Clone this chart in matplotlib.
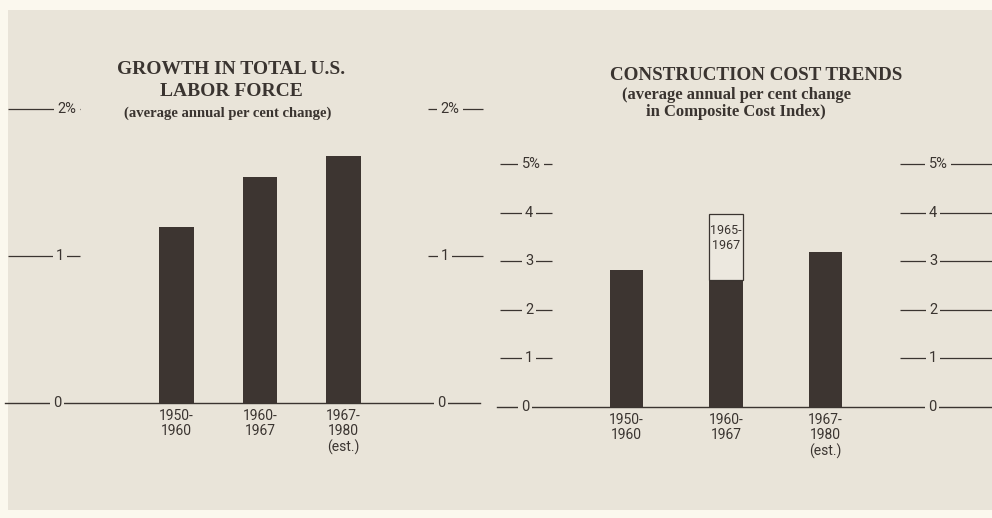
import matplotlib
matplotlib.use("Agg")
import matplotlib.pyplot as plt
import matplotlib.transforms as mtransforms
from matplotlib.patches import Rectangle

# ---- data -------------------------------------------------------------
labor_periods = ["1950-\n1960", "1960-\n1967", "1967-\n1980\n(est.)"]
labor_growth = [1.2, 1.54, 1.68]          # average annual % change
labor_ticks = [0, 1, 2]
labor_tick_labels = ["0", "1", "2%"]

cost_periods = ["1950-\n1960", "1960-\n1967", "1967-\n1980\n(est.)"]
cost_growth = [2.82, 2.62, 3.18]          # average annual % change
cost_recent_label = "1965-\n1967"
cost_recent_value = 3.98                   # 1965-1967 rate, shown as outlined box
cost_ticks = [0, 1, 2, 3, 4, 5]
cost_tick_labels = ["0", "1", "2", "3", "4", "5%"]

# ---- style ------------------------------------------------------------
W, H = 992, 518
PAPER = "#e9e4d9"
MARGIN = "#fbf8ee"
INK = "#3a3430"
BAR = "#3d3531"
SERIF = ["Liberation Serif", "DejaVu Serif"]
NARROW = ["Roboto", "DejaVu Sans"]
TICK_SIZE = 10.5
CAT_SIZE = 10
GAP = dict(facecolor=PAPER, edgecolor="none", pad=2.4)

fig = plt.figure(figsize=(W / 100, H / 100), dpi=100, facecolor=MARGIN)
fig.patches.append(Rectangle((8 / W, (H - 510) / H), (W - 8) / W, 500 / H,
                             transform=fig.transFigure, facecolor=PAPER,
                             edgecolor="none", zorder=-10))


def make_axes(x0, x1, first_center, spacing, zero_px, px_per_unit):
    """Axes covering pixel columns x0..x1 over the full height, with
    category i centred at first_center + i*spacing and value 0 at zero_px."""
    ax = fig.add_axes([x0 / W, 0, (x1 - x0) / W, 1])
    ax.set_xlim((x0 - first_center) / spacing, (x1 - first_center) / spacing)
    ax.set_ylim(-(H - zero_px) / px_per_unit, zero_px / px_per_unit)
    ax.axis("off")
    ax.patch.set_visible(False)
    return ax


def px(x):
    return x / W


def scale(ax, values, labels, left, right, centers, size=TICK_SIZE):
    tr = mtransforms.blended_transform_factory(fig.transFigure, ax.transData)
    for v, lab, cx in zip(values, labels, centers):
        ax.plot([px(left), px(right)], [v, v], transform=tr, color=INK,
                lw=0.9, solid_capstyle="butt", zorder=2, clip_on=False)
        ax.text(px(cx), v, lab, transform=tr, ha="center", va="center",
                fontsize=size, color=INK, family=NARROW, zorder=3, bbox=GAP)


# ---- left panel: labor force -----------------------------------------
ax1 = make_axes(0, 496, 176.5, 83.5, 403, 147)
x1 = range(len(labor_growth))
ax1.bar(x1, labor_growth, width=0.41, color=BAR, zorder=4)
tr1 = mtransforms.blended_transform_factory(fig.transFigure, ax1.transData)
ax1.plot([px(5), px(480)], [0, 0], transform=tr1, color=INK, lw=1.0, zorder=2)
for v, lab, cx in [(0, "0", 57), (0, "0", 441)]:
    ax1.text(px(cx), v, lab, transform=tr1, ha="center", va="center",
             fontsize=TICK_SIZE, color=INK, family=NARROW, zorder=3, bbox=GAP)
scale(ax1, labor_ticks[1:], labor_tick_labels[1:], 8, 80, [60, 67])
scale(ax1, labor_ticks[1:], labor_tick_labels[1:], 428, 483, [445, 450])
for i, lab in enumerate(labor_periods):
    ax1.annotate(lab, (i, 0), xytext=(0, -4), textcoords="offset points",
                 ha="center", va="top", fontsize=CAT_SIZE, color=INK,
                 family=NARROW, linespacing=1.15)

fig.text(px(231), 1 - 70 / H, "GROWTH IN TOTAL U.S.", ha="center",
         va="center", fontsize=14, fontweight="bold", family=SERIF, color=INK)
fig.text(px(231), 1 - 92 / H, "LABOR FORCE", ha="center", va="center",
         fontsize=14, fontweight="bold", family=SERIF, color=INK)
fig.text(px(228), 1 - 113 / H, "(average annual per cent change)",
         ha="center", va="center", fontsize=10.5, fontweight="bold",
         family=SERIF, color=INK)

# ---- right panel: construction cost ----------------------------------
ax2 = make_axes(496, 992, 626.5, 99.5, 407, 48.6)
x2 = range(len(cost_growth))
ax2.bar(x2, cost_growth, width=0.34, color=BAR, zorder=4)
ax2.bar([1], [cost_recent_value - cost_growth[1]], bottom=[cost_growth[1]],
        width=0.34, facecolor="#ece8df", edgecolor=INK, lw=0.9, zorder=4)
ax2.text(1, cost_recent_value - 0.22, cost_recent_label, ha="center",
         va="top", fontsize=9, color=INK, family=NARROW,
         linespacing=1.2, zorder=5)
tr2 = mtransforms.blended_transform_factory(fig.transFigure, ax2.transData)
ax2.plot([px(497), px(992)], [0, 0], transform=tr2, color=INK, lw=1.0,
         zorder=2, clip_on=False)
for v, lab, cx in [(0, "0", 525), (0, "0", 932)]:
    ax2.text(px(cx), v, lab, transform=tr2, ha="center", va="center",
             fontsize=TICK_SIZE, color=INK, family=NARROW, zorder=3, bbox=GAP)
scale(ax2, cost_ticks[1:], cost_tick_labels[1:], 500, 552,
      [529, 529, 529, 529, 531])
scale(ax2, cost_ticks[1:], cost_tick_labels[1:], 900, 992,
      [933, 933, 933, 933, 938])
for i, lab in enumerate(cost_periods):
    ax2.annotate(lab, (i, 0), xytext=(0, -4), textcoords="offset points",
                 ha="center", va="top", fontsize=CAT_SIZE, color=INK,
                 family=NARROW, linespacing=1.15)

fig.text(px(756), 1 - 75 / H, "CONSTRUCTION COST TRENDS", ha="center",
         va="center", fontsize=13.7, fontweight="bold", family=SERIF, color=INK)
fig.text(px(736), 1 - 95 / H, "(average annual per cent change",
         ha="center", va="center", fontsize=12, fontweight="bold",
         family=SERIF, color=INK)
fig.text(px(736), 1 - 112 / H, "in Composite Cost Index)", ha="center",
         va="center", fontsize=12, fontweight="bold", family=SERIF,
         color=INK)

fig.savefig("out.png", dpi=100, facecolor=MARGIN)
